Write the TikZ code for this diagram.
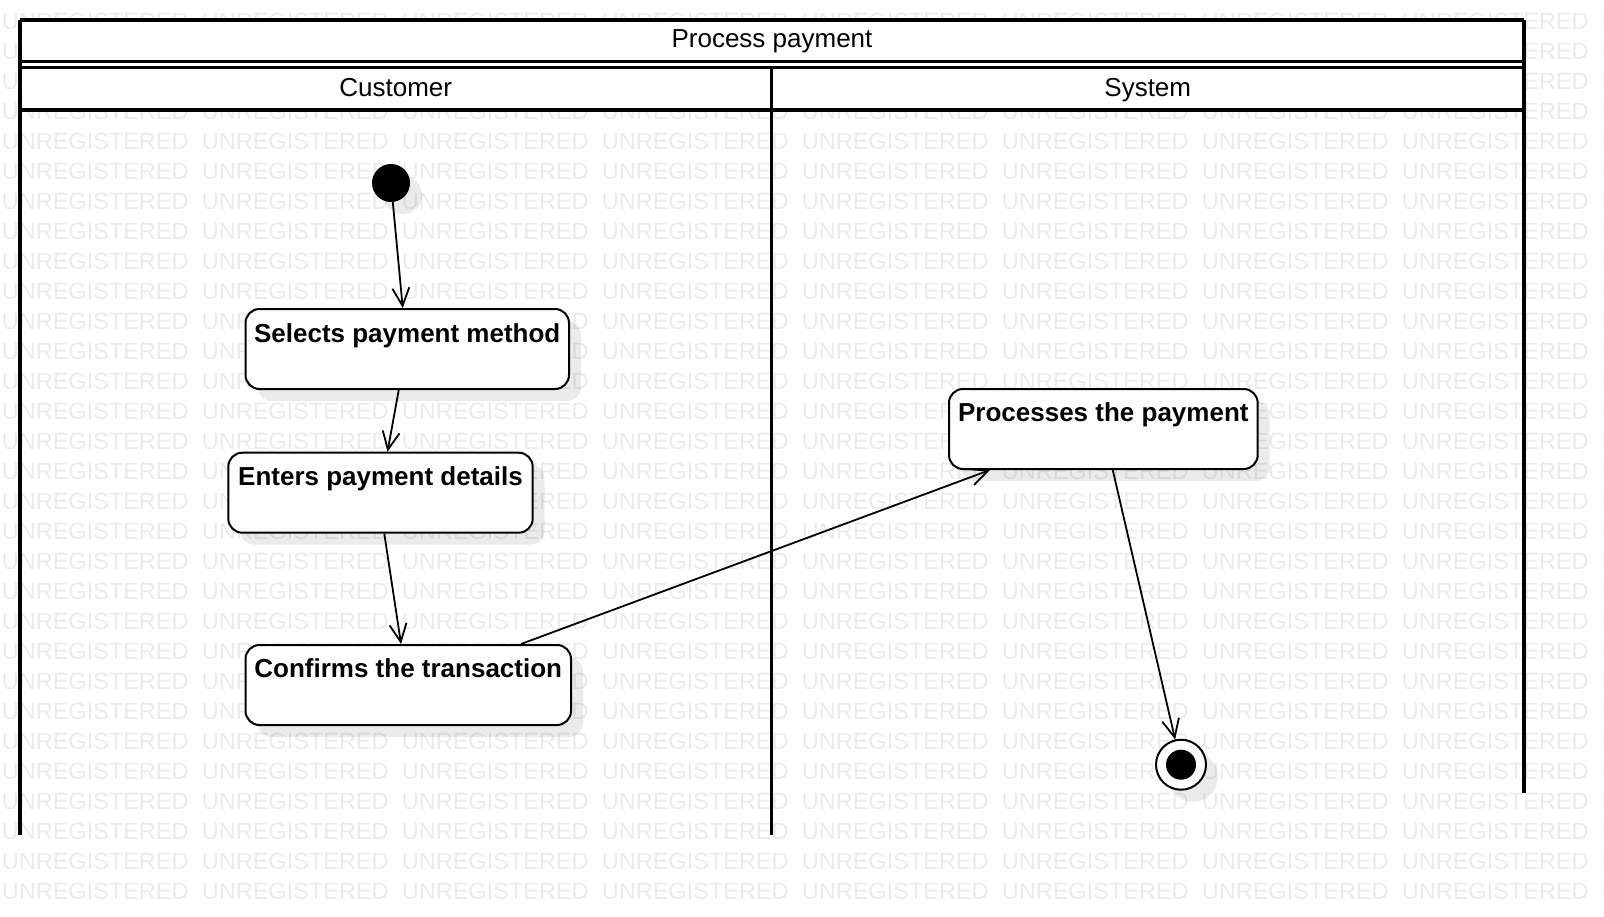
\documentclass[tikz,border=0pt]{standalone}
\usepackage{fontspec}
\setmainfont{Liberation Sans}
\usetikzlibrary{arrows.meta,shadows,calc}
\begin{document}
\begin{tikzpicture}[x=1pt,y=-1pt,
  wm/.style={font=\fontsize{23.5}{28}\selectfont, text=black!8, inner sep=0pt, anchor=west},
  lanefr/.style={line width=3.5pt},
  hdr/.style={font=\fontsize{26}{30}\selectfont, inner sep=0pt, anchor=base},
  shad/.style={drop shadow={shadow xshift=12pt, shadow yshift=-12pt, fill=black, opacity=0.08}},
  actbox/.style={draw, line width=2pt, rounded corners=14pt, fill=white, minimum height=80pt, inner sep=0pt, anchor=north west, shad},
  btext/.style={font=\bfseries\fontsize{26}{30}\selectfont, inner sep=0pt, anchor=base},
  arr/.style={line width=1.8pt, -{Straight Barb[length=18pt,width=17pt,line width=1.8pt]}}
]
\useasboundingbox (0,0) rectangle (1604,916);
% watermark
\foreach \r in {0,...,29}{
  \foreach \c in {0,...,8}{
    \node[wm] (wm-\r-\c) at ({1.7+200*\c},{21.7+30*\r}) {UNREGISTERED};
  }
}
% swimlane frame
\fill[white] (20,20) rectangle (1524,110);
\draw[lanefr] (20,20) -- (1524,20);
\draw[line width=3pt] (20,61.7) -- (1524,61.7);
\draw[line width=3pt] (20,67.3) -- (1524,67.3);
\draw[lanefr] (20,110) -- (1524,110);
\draw[lanefr] (20,20) -- (20,835);
\draw[lanefr] (771.5,67.3) -- (771.5,835);
\draw[lanefr] (1524,20) -- (1524,793);
\node[hdr] (title) at (772,47.3) {Process payment};
\node[hdr] (cust) at (395.75,96.7) {Customer};
\node[hdr] (sys) at (1147.75,96.7) {System};
% nodes
\node[circle, fill=black, minimum size=38pt, inner sep=0pt, shad] (init) at (391,183) {};
\node[actbox, minimum width=323.5pt] (sel) at (244.5,308) {};
\node[btext] (selT) at ($(sel.north)+(0,34)$) {Selects payment method};
\node[actbox, minimum width=304.4pt] (ent) at (227.3,451.7) {};
\node[btext] (entT) at ($(ent.north)+(0,33.5)$) {Enters payment details};
\node[actbox, minimum width=325.5pt] (conf) at (244.5,644) {};
\node[btext] (confT) at ($(conf.north)+(0,33.5)$) {Confirms the transaction};
\node[actbox, minimum width=308.7pt] (proc) at (948,388) {};
\node[btext] (procT) at ($(proc.north)+(0,33.5)$) {Processes the payment};
\node[circle, draw, line width=2pt, fill=white, minimum size=50pt, inner sep=0pt, shad] (fin) at (1181,764.7) {};
\node[circle, fill=black, minimum size=30pt, inner sep=0pt] (finIn) at (fin.center) {};
% connectors
\draw[arr] (init) -- ([xshift=-4.5pt]sel.north);
\draw[arr] ([xshift=-8.5pt]sel.south) -- ([xshift=7pt]ent.north);
\draw[arr] ([xshift=3.8pt]ent.south) -- ([xshift=-7.2pt]conf.north);
\draw[arr] ([xshift=112.75pt]conf.north) -- ([xshift=-113.4pt]proc.south);
\draw[arr] ([xshift=9.4pt]proc.south) -- (fin);
\end{tikzpicture}
\end{document}
